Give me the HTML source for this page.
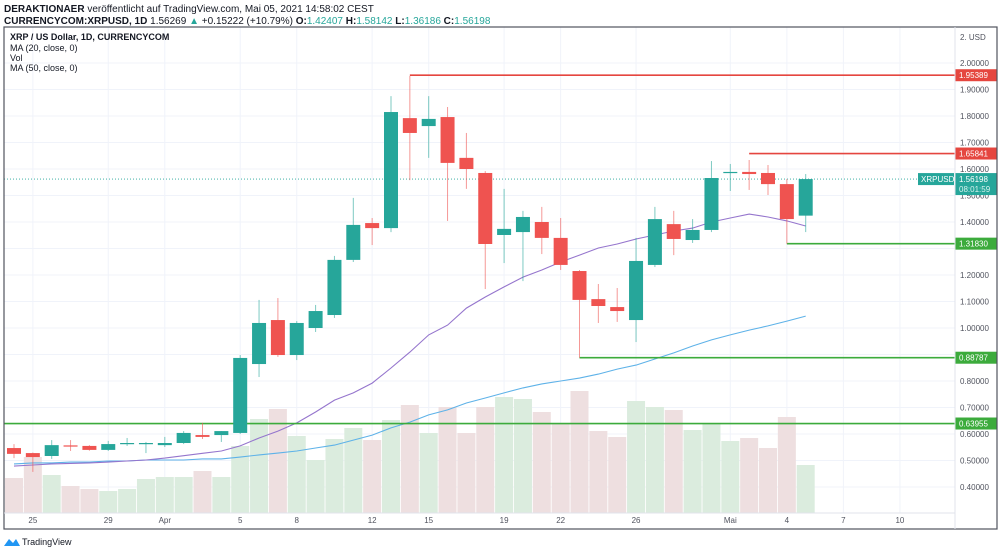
<!DOCTYPE html>
<html><head><meta charset="utf-8"><style>
body{margin:0;background:#fff;width:1000px;height:552px;overflow:hidden;font-family:"Liberation Sans",sans-serif}
svg{position:absolute;left:0;top:0}
</style></head><body>
<svg id="c" width="1000" height="552" viewBox="0 0 1000 552">
<text x="4" y="12" font-size="10" fill="#131722"><tspan font-weight="bold">DERAKTIONAER</tspan> veröffentlicht auf TradingView.com, Mai 05, 2021 14:58:02 CEST</text>
<text x="4" y="24" font-size="10" fill="#131722"><tspan font-weight="bold">CURRENCYCOM:XRPUSD, 1D</tspan> 1.56269 <tspan fill="#26a69a">▲</tspan> +0.15222 (+10.79%) <tspan font-weight="bold">O:</tspan><tspan fill="#26a69a">1.42407</tspan> <tspan font-weight="bold">H:</tspan><tspan fill="#26a69a">1.58142</tspan> <tspan font-weight="bold">L:</tspan><tspan fill="#26a69a">1.36186</tspan> <tspan font-weight="bold">C:</tspan><tspan fill="#26a69a">1.56198</tspan></text>
<g id="grid"></g><g id="vol"></g><g id="ma"></g><g id="levels"></g><g id="candles"></g><g id="axis"></g>
<rect x="4" y="27" width="993" height="502" fill="none" stroke="#50535e" stroke-width="1.2"/>
<line x1="955" y1="27" x2="955" y2="529" stroke="#e0e3eb"/>
<line x1="4" y1="513" x2="955" y2="513" stroke="#e0e3eb"/>
<text x="10" y="40" font-size="9" font-weight="bold" fill="#131722">XRP / US Dollar, 1D, CURRENCYCOM</text>
<text x="10" y="51" font-size="9" fill="#131722">MA (20, close, 0)</text>
<text x="10" y="61" font-size="9" fill="#131722">Vol</text>
<text x="10" y="71" font-size="9" fill="#131722">MA (50, close, 0)</text>
<g><path d="M4 546 L9 539 L13 543 L16 539 L20 546 Z" fill="#2196f3"/><text x="22" y="545" font-size="9" fill="#131722">TradingView</text></g>
</svg>
<script>
const dates=['25','29','Apr','5','8','12','15','19','22','26','Mai','4','7','10'];
const dateIdx=[1,5,8,12,15,19,22,26,29,33,38,41,44,47];
const priceTicks=[2.0,1.9,1.8,1.7,1.6,1.5,1.4,1.3,1.2,1.1,1.0,0.9,0.8,0.7,0.6,0.5,0.4];
const hiddenTicks=[1.3,0.9];
const opens=[0.547,0.528,0.517,0.557,0.555,0.540,0.562,0.564,0.558,0.566,0.596,0.596,0.604,0.864,1.030,0.898,1.000,1.049,1.257,1.396,1.377,1.792,1.762,1.796,1.642,1.585,1.351,1.362,1.400,1.340,1.215,1.109,1.079,1.030,1.238,1.392,1.332,1.370,1.585,1.589,1.585,1.543,1.424];
const highs=[0.562,0.530,0.577,0.577,0.558,0.574,0.585,0.570,0.589,0.611,0.642,0.611,0.898,1.106,1.113,1.026,1.087,1.272,1.491,1.415,1.875,1.951,1.875,1.834,1.736,1.592,1.525,1.442,1.457,1.415,1.219,1.166,1.151,1.340,1.457,1.442,1.411,1.630,1.619,1.634,1.615,1.562,1.581];
const lows=[0.509,0.457,0.506,0.536,0.537,0.536,0.555,0.528,0.551,0.562,0.581,0.570,0.600,0.815,0.891,0.879,0.985,1.038,1.249,1.313,1.362,1.558,1.642,1.404,1.525,1.147,1.245,1.177,1.279,1.219,0.888,1.019,1.023,0.947,1.230,1.275,1.321,1.362,1.517,1.521,1.502,1.318,1.362];
const closes=[0.525,0.513,0.558,0.553,0.540,0.562,0.566,0.566,0.566,0.604,0.589,0.611,0.887,1.019,0.898,1.019,1.064,1.257,1.389,1.377,1.815,1.736,1.789,1.623,1.600,1.317,1.374,1.419,1.340,1.238,1.106,1.083,1.064,1.253,1.411,1.336,1.370,1.566,1.589,1.581,1.543,1.411,1.562];
const volumes=[35,56,38,27,24,22,24,34,36,36,42,36,67,94,104,77,53,74,85,73,93,108,80,106,80,106,116,114,101,90,122,82,76,112,106,103,83,90,72,75,65,96,48];
const ma20=[0.479,0.483,0.487,0.489,0.491,0.494,0.498,0.502,0.509,0.518,0.527,0.536,0.555,0.585,0.611,0.642,0.683,0.728,0.755,0.792,0.849,0.909,0.974,1.011,1.075,1.117,1.155,1.192,1.219,1.249,1.275,1.302,1.317,1.336,1.351,1.366,1.377,1.400,1.415,1.430,1.419,1.404,1.385];
const ma50=[0.487,0.491,0.491,0.494,0.494,0.498,0.498,0.502,0.502,0.502,0.506,0.506,0.513,0.521,0.528,0.536,0.547,0.558,0.577,0.596,0.623,0.645,0.672,0.691,0.717,0.736,0.755,0.774,0.789,0.800,0.811,0.826,0.845,0.860,0.883,0.906,0.932,0.955,0.974,0.992,1.008,1.026,1.045];
const levelPrices=[1.95389,1.65841,1.31830,0.88787,0.63955];
const levelStart=[21,39,41,30,-1];
const lastPrice=1.56198;

const NS='http://www.w3.org/2000/svg';
const X=i=>14+18.85*i;
const Y=p=>63+(2-p)*265;
const VY=v=>513-v;
function mk(tag,attrs,parent){const e=document.createElementNS(NS,tag);for(const k in attrs)e.setAttribute(k,attrs[k]);document.getElementById(parent).appendChild(e);return e;}
const up='#26a69a',dn='#ef5350';
priceTicks.forEach((p,k)=>{
 const l=mk('line',{x1:4,x2:955,y1:Y(p),y2:Y(p),stroke:'#f0f3fa'},'grid');
 
 
 if(hiddenTicks.includes(p))return;
 const t=mk('text',{x:960,y:Y(p)+3,'font-size':8,fill:'#50535e'},'axis');
 t.textContent=p.toFixed(5);
 
 
});
dates.forEach((d,k)=>{
 const x=X(dateIdx[k]);
 const l=mk('line',{x1:x,x2:x,y1:27,y2:513,stroke:'#f0f3fa'},'grid');
 
 
 const t=mk('text',{x:x,y:523,'font-size':8,fill:'#50535e','text-anchor':'middle'},'axis');
 t.textContent=d;
 
 
});
{const t=mk('text',{x:960,y:40,'font-size':8,fill:'#50535e'},'axis');t.textContent='2. USD';

}
volumes.forEach((v,i)=>{
 const r=mk('rect',{x:X(i)-9,y:VY(v),width:18,height:v,fill:closes[i]>=opens[i]?'#dbecde':'#eedfe0'},'vol');
 
 
});
function line(arr,color,name){const d=arr.map((v,i)=>(i?'L':'M')+X(i).toFixed(1)+' '+Y(v).toFixed(1)).join(' ');
 const p=mk('path',{d:d,fill:'none',stroke:color,'stroke-width':1.1},'ma');
 
 }
line(ma50,'#5eb2e8','ma50-line');
line(ma20,'#9575cd','ma20-line');
{const l=mk('line',{x1:4,x2:955,y1:Y(lastPrice),y2:Y(lastPrice),stroke:up,'stroke-dasharray':'1 2','stroke-width':0.8},'levels');

}
levelPrices.forEach((p,k)=>{
 const col=k<2?'#e5463f':'#3cab3c';
 const x0=levelStart[k]<0?4:X(levelStart[k]);
 const l=mk('line',{x1:x0,x2:955,y1:Y(p),y2:Y(p),stroke:col,'stroke-width':1.6},'levels');
 
 
 const r=mk('rect',{x:955,y:Y(p)-6,width:42,height:12,fill:col},'axis');
 
 
 const t=mk('text',{x:959,y:Y(p)+3,'font-size':8,fill:'#fff'},'axis');
 t.textContent=p.toFixed(5);
 
 
});
opens.forEach((o,i)=>{
 const c=closes[i],col=c>=o?up:dn,x=X(i);
 const w=mk('line',{x1:x,x2:x,y1:Y(highs[i]),y2:Y(lows[i]),stroke:col,'stroke-width':1,'stroke-opacity':0.6},'candles');
 
 
 const top=Y(Math.max(o,c)),h=Math.max(1.2,Math.abs(Y(o)-Y(c)));
 const b=mk('rect',{x:x-7,y:top,width:14,height:h,fill:col},'candles');
 
 
});
{const yy=Y(lastPrice);
const r1=mk('rect',{x:918,y:yy-6,width:36,height:12,fill:up},'axis');


const t1=mk('text',{x:921,y:yy+3,'font-size':8,fill:'#fff'},'axis');t1.textContent='XRPUSD';


const r2=mk('rect',{x:955,y:yy-6,width:42,height:22,fill:up},'axis');


const t2=mk('text',{x:959,y:yy+3,'font-size':8,fill:'#fff'},'axis');t2.textContent=lastPrice.toFixed(5);


const t3=mk('text',{x:959,y:yy+13,'font-size':8,fill:'#d8f3ef'},'axis');t3.textContent='08:01:59';

}
</script>
</body></html>
